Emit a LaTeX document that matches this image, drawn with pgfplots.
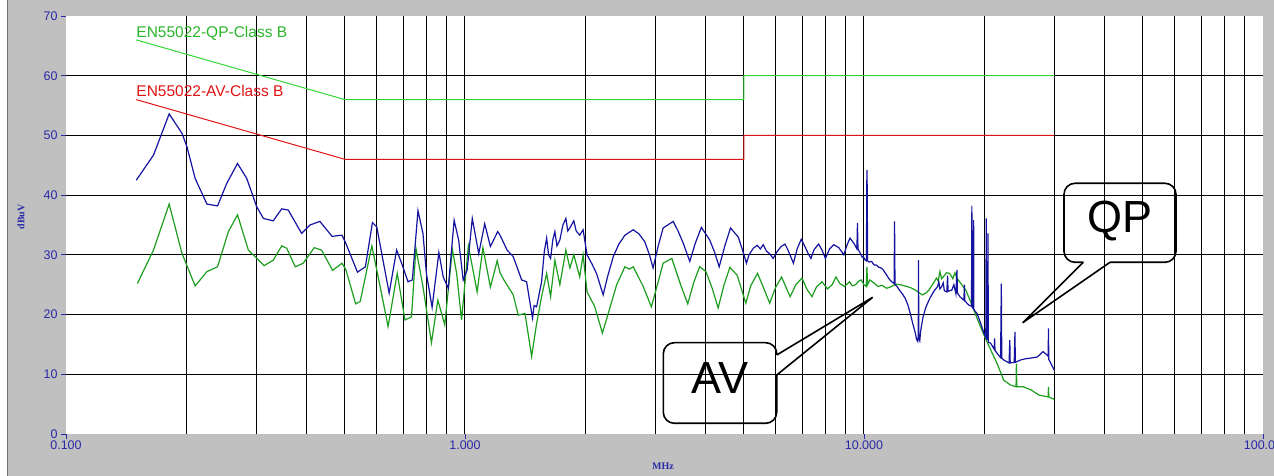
\documentclass[border=0pt]{standalone}
\usepackage{pgfplots}
\pgfplotsset{compat=1.18}
\usepackage{fontspec}
\setmainfont{Liberation Sans}
\newfontfamily\serifb{Liberation Serif}
\definecolor{bggray}{HTML}{C0C0C0}
\definecolor{tickblue}{HTML}{2A2AA8}
\definecolor{qpblue}{HTML}{1414A0}
\definecolor{avgreen}{HTML}{1E9E1E}
\definecolor{limgreen}{HTML}{33D633}
\definecolor{limred}{HTML}{E01414}
\begin{document}
\begin{tikzpicture}
\useasboundingbox (-66pt,-42pt) rectangle (1208pt,434pt);
\fill[bggray] (-66pt,-42pt) rectangle (1208pt,434pt);
\fill[white] (-66pt,-42pt) rectangle (-58pt,434pt);
\draw[black!55, line width=1pt] (-58pt,-42pt) -- (-58pt,434pt);
\begin{axis}[
  scale only axis, width=1197pt, height=418pt,
  at={(0pt,0pt)}, anchor=south west,
  xmode=log, xmin=0.1, xmax=100, ymin=0, ymax=70,
  axis background/.style={fill=white},
  axis line style={draw=none},
  xtick={0.1,1,10,100}, xticklabels={0.100,1.000,10.000,100.00},
  minor xtick={0.2,0.3,0.4,0.5,0.6,0.7,0.8,0.9,1,2,3,4,5,6,7,8,9,10,20,30,40,50,60,70,80,90},
  ytick={0,10,20,30,40,50,60,70}, yticklabels={0,10,20,30,40,50,60,70},
  minor ytick={10,20,30,40,50,60},
  xminorgrids=true, yminorgrids=true, xmajorgrids=false, ymajorgrids=false,
  minor grid style={black, line width=1pt},
  minor tick length=0pt, major tick length=5pt, tick align=outside,
  xtick pos=left, ytick pos=left,
  major tick style={tickblue, line width=0.8pt},
  ticklabel style={font=\fontsize{12.5}{12.5}\selectfont, text=tickblue},
  xticklabel style={inner sep=2pt},
]
% limit lines
\addplot[limgreen, line width=1pt] coordinates {(0.15,66) (0.5,56) (5,56) (5,60) (30,60)};
\addplot[limred, line width=1pt] coordinates {(0.15,56) (0.5,46) (5,46) (5,50) (30,50)};
% AV trace
\addplot[avgreen, line width=1.2pt] coordinates {
(0.151,25.2) (0.1657,30.8) (0.1814,38.5) (0.1952,30.3) (0.2107,24.8) (0.2256,27.2) (0.2398,28.0)
(0.2553,33.9) (0.2691,36.7) (0.2865,30.8) (0.3137,28.2) (0.3307,29.1) (0.3473,31.5) (0.3575,31.1)
(0.3756,28.0) (0.3932,28.6) (0.419,31.2) (0.437,30.8) (0.4658,27.4) (0.4918,28.6) (0.503,27.5)
(0.532,21.8) (0.5463,22.2) (0.5842,31.5) (0.606,26.3) (0.6416,18.0) (0.6764,26.9) (0.7072,19.1)
(0.7345,19.6) (0.7535,31.1) (0.7847,24.7) (0.824,15.3) (0.855,22.4) (0.8898,18.3) (0.9298,30.9)
(0.953,26.9) (0.9804,19.1) (1.0197,31.5) (1.0726,23.8) (1.109,31.2) (1.158,24.6) (1.204,29.0)
(1.224,27.0) (1.252,25.8) (1.321,23.3) (1.36,19.9) (1.414,20.2) (1.469,13.0) (1.512,18.5)
(1.556,23.0) (1.602,26.9) (1.639,23.0) (1.680,29.1) (1.729,25.0) (1.790,30.8) (1.832,27.8)
(1.874,30.0) (1.939,26.3) (1.977,30.0) (2.023,23.8) (2.115,21.3) (2.21,16.9) (2.30,20.8)
(2.40,25.0) (2.517,28.0) (2.58,27.6) (2.641,28.0) (2.797,24.7) (2.932,21.3) (3.05,25.5) (3.138,28.6)
(3.300,29.4) (3.463,25.2) (3.617,21.8) (3.75,25.5) (3.875,28.0) (4.016,27.2) (4.16,24.5) (4.31,21.1)
(4.46,25.0) (4.611,27.9) (4.81,26.6) (5.056,21.9) (5.2,24.8) (5.41,26.9) (5.6,24.5) (5.804,21.9)
(6.0,24.5) (6.216,26.3) (6.529,23.0) (6.75,25.0) (6.99,26.1) (7.2,24.2) (7.41,23.0) (7.6,24.6)
(7.85,25.5) (8.1,24.3) (8.32,25.0) (8.51,26.3) (8.7,25.2) (8.94,24.7) (9.2,25.5) (9.35,24.8)
(9.53,25.0) (9.7,25.6) (9.84,25.8) (10.0,25.0) (10.13,24.7) (10.17,28.0) (10.21,25.0) (10.35,25.8)
(10.5,25.5) (10.84,24.7) (11.1,24.9) (11.4,24.4) (11.73,24.7) (12.0,25.1) (12.33,25.0) (12.8,24.7)
(13.1,24.5) (13.45,24.1) (14.0,23.3) (14.3,23.6) (14.55,24.1) (14.9,25.2) (15.2,26.1) (15.35,25.6)
(15.5,27.2) (15.65,26.0) (15.8,26.3) (16.1,27.0) (16.4,26.9) (16.7,26.0) (16.9,27.0) (17.1,26.1)
(17.5,25.2) (18.0,24.1) (18.5,22.2) (19.2,19.4) (19.98,16.6) (20.77,14.1) (21.56,11.8) (22.4,9.0)
(23.3,8.2) (24.05,7.9) (24.1,11.8) (24.15,7.9) (25.1,7.9) (26.2,7.4) (27.5,6.5) (28.95,6.2)
(29.0,7.9) (29.05,6.2) (30.0,5.8)
};
% QP trace
\addplot[qpblue, line width=1.2pt] coordinates {
(0.150,42.5) (0.1657,46.7) (0.1814,53.6) (0.1952,50.4) (0.2010,48.1) (0.2107,42.8) (0.2256,38.5)
(0.2398,38.2) (0.2530,42.0) (0.2691,45.3) (0.2838,42.8) (0.3004,38.1) (0.3124,36.1) (0.3307,35.7)
(0.3473,37.7) (0.3606,37.5) (0.3896,33.6) (0.4087,35.0) (0.4328,35.6) (0.4643,33.1) (0.4918,33.3)
(0.5030,31.9) (0.5376,27.1) (0.5628,28.0) (0.5862,35.4) (0.6009,34.7) (0.6456,23.6) (0.6740,30.8)
(0.6937,28.6) (0.7200,25.5) (0.7380,25.8) (0.7625,37.4) (0.7847,33.6) (0.8004,26.9) (0.8271,21.2)
(0.8601,30.4) (0.8820,26.3) (0.9080,24.4) (0.9393,35.8) (0.9640,32.5) (0.9896,25.8) (1.0128,27.5)
(1.043,36.1) (1.0827,30.2) (1.1205,35.2) (1.158,31.4) (1.208,33.9) (1.224,33.3) (1.275,30.8)
(1.321,29.7) (1.387,25.8) (1.427,25.5) (1.455,22.0) (1.477,19.4) (1.49,21.5) (1.512,21.3)
(1.556,25.5) (1.58,30.5) (1.602,32.8) (1.62,30.0) (1.639,29.4) (1.66,32.5) (1.680,33.9) (1.70,31.5)
(1.729,32.5) (1.76,35.0) (1.790,36.1) (1.81,34.0) (1.832,34.5) (1.874,35.7) (1.90,34.0) (1.939,33.3)
(1.977,34.2) (2.023,30.0) (2.08,28.5) (2.136,26.9) (2.18,25.0) (2.220,23.3) (2.28,26.5) (2.353,29.7)
(2.43,31.8) (2.517,33.3) (2.641,34.2) (2.73,33.5) (2.822,32.2) (2.90,30.0) (2.961,27.8) (3.05,31.5)
(3.138,34.5) (3.326,35.6) (3.42,34.0) (3.526,31.9) (3.660,28.9) (3.78,32.0) (3.913,34.6) (4.105,32.5)
(4.22,30.5) (4.336,28.0) (4.48,31.5) (4.628,34.5) (4.839,33.0) (4.95,31.0) (5.075,28.6) (5.15,30.0)
(5.279,31.1) (5.40,31.6) (5.50,31.0) (5.590,31.7) (5.70,30.6) (5.80,30.2) (5.920,29.4) (6.05,30.5)
(6.20,31.4) (6.339,31.8) (6.45,30.8) (6.656,28.6) (6.80,31.0) (6.962,32.6) (7.10,31.5) (7.25,30.2)
(7.363,29.4) (7.50,30.9) (7.697,31.8) (7.85,30.8) (8.004,29.4) (8.20,31.0) (8.400,31.7) (8.65,31.2)
(8.904,30.0) (9.05,31.5) (9.223,32.8) (9.442,31.9) (9.60,31.0) (9.63,35.3) (9.66,31.0) (9.78,30.3)
(9.90,29.6) (9.96,29.7) (10.05,29.2) (10.14,29.0) (10.17,44.2) (10.19,41.0) (10.21,29.0) (10.30,28.8)
(10.45,28.9) (10.60,28.3) (10.74,28.3) (10.90,27.9) (11.05,27.8) (11.17,27.5) (11.35,26.8) (11.55,26.0)
(11.73,25.5) (11.90,25.2) (11.93,35.6) (11.96,25.0) (12.10,24.7) (12.30,24.0) (12.50,23.4) (12.69,22.7)
(12.90,21.5) (13.06,20.2) (13.25,18.5) (13.45,16.9) (13.55,15.8) (13.64,15.5) (13.68,16.5) (13.70,29.1)
(13.72,16.0) (13.80,15.6) (13.86,17.1) (14.05,19.5) (14.27,21.1) (14.50,22.2) (14.70,23.0) (15.00,24.0)
(15.30,24.7) (15.40,25.5) (15.50,24.3) (15.66,24.7) (15.80,25.3) (15.90,24.0) (16.13,23.8) (16.20,26.5)
(16.25,23.9) (16.6,24.1) (16.8,25.0) (17.0,23.5) (17.1,27.5) (17.15,23.6) (17.4,23.0) (17.8,22.4)
(17.85,25.0) (17.9,22.3) (18.3,21.6) (18.6,21.4) (18.64,38.2) (18.68,21.2) (18.80,21.0) (18.83,35.8)
(18.86,20.8) (19.2,20.2) (19.6,18.6) (19.98,16.9) (20.20,16.2) (20.25,36.1) (20.30,16.0) (20.42,15.8)
(20.45,33.6) (20.50,15.4) (20.77,15.2) (21.2,14.2) (21.25,16.0) (21.3,14.0) (21.56,13.5) (22.0,12.8)
(22.09,25.2) (22.15,12.7) (22.4,12.4) (23.1,11.9) (23.2,15.7) (23.25,11.9) (23.8,12.0) (23.9,17.1)
(23.95,12.0) (24.7,12.4) (25.4,12.6) (26.1,12.7) (27.2,12.9) (28.1,13.8) (28.8,13.2) (28.95,13.0)
(29.0,17.7) (29.05,12.5) (29.4,11.8) (30.0,10.7)
};
\node[anchor=base west, inner sep=0pt, text=limgreen!85!black, font=\fontsize{15.5}{15.5}\selectfont] at (axis cs:0.15,66.4) {EN55022-QP-Class B};
\node[anchor=base west, inner sep=0pt, text=limred, font=\fontsize{15.5}{15.5}\selectfont] at (axis cs:0.15,56.45) {EN55022-AV-Class B};
\end{axis}
% axis titles
\node[rotate=90, text=tickblue, font=\serifb\bfseries\fontsize{10}{10}\selectfont] at (-45pt,217pt) {dBuV};
\node[text=tickblue, font=\serifb\bfseries\fontsize{10}{10}\selectfont] at (597pt,-32pt) {MHz};
% callouts
\draw[black, line width=1.6pt, rounded corners=11pt] (710.7pt,79pt) -- (710.7pt,91.3pt) -- (597.3pt,91.3pt) -- (597.3pt,10.7pt) -- (710.7pt,10.7pt) -- (710.7pt,59pt);
\draw[black, line width=1.6pt, line join=miter] (710.7pt,79pt) -- (806.7pt,136.7pt) -- (710.7pt,59pt);
\node[anchor=base, inner sep=0pt, font=\fontsize{45}{45}\selectfont] at (654pt,40.7pt) {AV};
\draw[black, line width=1.6pt, rounded corners=11pt] (1017.3pt,171.7pt) -- (998pt,171.7pt) -- (998pt,250.7pt) -- (1110pt,250.7pt) -- (1110pt,171.7pt) -- (1044pt,171.7pt);
\draw[black, line width=1.6pt, line join=miter] (1017.3pt,171.7pt) -- (956.7pt,111.3pt) -- (1044pt,171.7pt);
\node[anchor=base, inner sep=0pt, font=\fontsize{45}{45}\selectfont] at (1054pt,201pt) {QP};
\end{tikzpicture}
\end{document}
